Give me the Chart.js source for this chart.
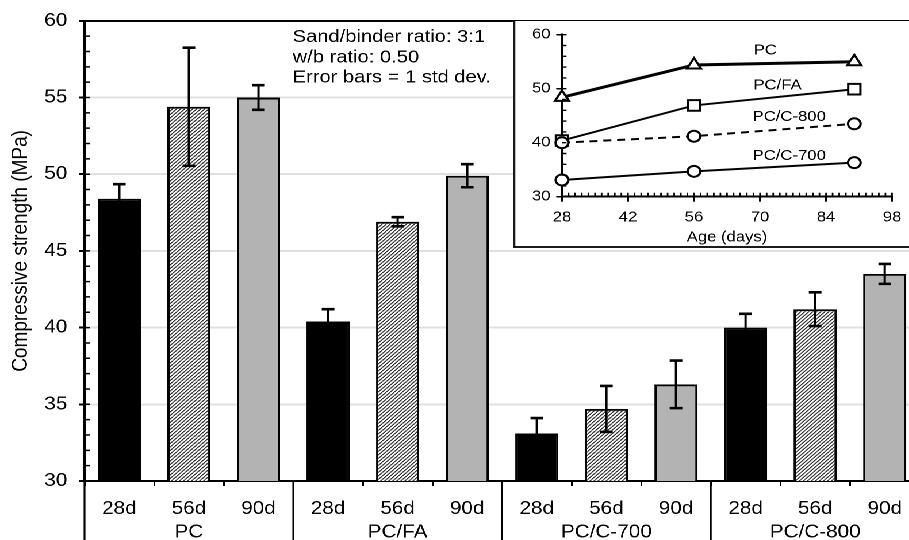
<!DOCTYPE html>
<html>
<head>
<meta charset="utf-8">
<script src="https://cdn.jsdelivr.net/npm/chart.js@4.4.0/dist/chart.umd.min.js"></script>
<style>
  html, body { margin: 0; padding: 0; background: #fff; overflow: hidden; width: 909px; height: 540px; }
  /* the original figure is stretched sideways, so draw narrow and widen */
  #wrap { position: absolute; left: 0; top: 0; width: 806px; height: 540px; transform: scaleX(1.15); transform-origin: 0 0; }
  #main { position: absolute; left: 0; top: 0; }
  #insetBox { position: absolute; left: 446px; top: 21px; width: 358px; height: 225px; background: #fff;
              border-left: 2px solid #1a1a1a; border-bottom: 2px solid #1a1a1a; }
</style>
</head>
<body>
<div id="wrap">
  <canvas id="main" width="806" height="540"></canvas>
  <div id="insetBox"><canvas id="inset" width="358" height="225"></canvas></div>
</div>
<script>
/* ── Data ── */
const groups = ['PC', 'PC/FA', 'PC/C-700', 'PC/C-800'];
const ages = ['28d', '56d', '90d'];
const ageDays = [28, 56, 90];

const pcStrength   = [48.4, 54.4, 55.0];
const faStrength   = [40.4, 46.9, 49.9];
const c700Strength = [33.1, 34.7, 36.3];
const c800Strength = [40.0, 41.2, 43.5];

const pcStd   = [0.95, 3.85, 0.8];
const faStd   = [0.8, 0.3, 0.75];
const c700Std = [1.0, 1.5, 1.55];
const c800Std = [0.9, 1.1, 0.65];

const notes = ['Sand/binder ratio: 3:1', 'w/b ratio: 0.50', 'Error bars = 1 std dev.'];

// where the series names sit in the inset, in data units
const insetLabelPos = [
  { text: 'PC',       x: 71.1, y: 57.1 },
  { text: 'PC/FA',    x: 73.7, y: 50.6 },
  { text: 'PC/C-800', x: 76.2, y: 44.75 },
  { text: 'PC/C-700', x: 76.2, y: 37.5 },
];

const FONT = '"Liberation Sans", Arial, sans-serif';

const labels = groups.flatMap(() => ages);
const values = [...pcStrength, ...faStrength, ...c700Strength, ...c800Strength];
const stds = [...pcStd, ...faStd, ...c700Std, ...c800Std];

function hatchPattern() {
  const t = document.createElement('canvas');
  t.width = 7; t.height = 7;
  const g = t.getContext('2d');
  g.fillStyle = '#fff';
  g.fillRect(0, 0, 7, 7);
  g.strokeStyle = '#2b2b2b';
  g.lineWidth = 2;
  g.beginPath();
  [-7, 0, 7].forEach(k => { g.moveTo(k, 7); g.lineTo(k + 7, 0); });
  g.stroke();
  const p = g.createPattern(t, 'repeat');
  p.setTransform(new DOMMatrix([0.5, 0, 0, 0.5, 0, 0]));
  return p;
}
const hatch = hatchPattern();
const fills = labels.map((_, i) => ['#000', hatch, '#b3b3b3'][i % 3]);

/* ── Main chart plugins ── */
const errorBars = {
  id: 'errorBars',
  afterDatasetsDraw(chart) {
    const { ctx, scales: { y } } = chart;
    ctx.save();
    ctx.strokeStyle = '#000';
    chart.getDatasetMeta(0).data.forEach((bar, i) => {
      const top = y.getPixelForValue(values[i] + stds[i]);
      const bot = y.getPixelForValue(values[i] - stds[i]);
      ctx.lineWidth = 2;
      ctx.beginPath();
      ctx.moveTo(bar.x, top); ctx.lineTo(bar.x, bot);
      ctx.stroke();
      ctx.lineWidth = 2.6;
      ctx.beginPath();
      ctx.moveTo(bar.x - 5.5, top); ctx.lineTo(bar.x + 5.5, top);
      ctx.moveTo(bar.x - 5.5, bot); ctx.lineTo(bar.x + 5.5, bot);
      ctx.stroke();
    });
    ctx.restore();
  }
};

const mainExtras = {
  id: 'mainExtras',
  afterDraw(chart) {
    const { ctx, chartArea: a, scales: { x, y } } = chart;
    ctx.save();
    ctx.strokeStyle = '#000';
    // minor ticks inside the value axis
    ctx.lineWidth = 1.5;
    ctx.beginPath();
    for (let v = y.min; v <= y.max; v += 1) {
      const py = y.getPixelForValue(v);
      ctx.moveTo(a.left, py); ctx.lineTo(a.left + 4.5, py);
    }
    ctx.stroke();
    // axis line and group dividers through the label rows
    ctx.lineWidth = 1.6;
    ctx.beginPath();
    ctx.moveTo(a.left, a.bottom); ctx.lineTo(a.left, chart.height);
    for (let g = 1; g < groups.length; g++) {
      const px = (x.getPixelForValue(g * 3 - 1) + x.getPixelForValue(g * 3)) / 2;
      ctx.moveTo(px, a.bottom); ctx.lineTo(px, chart.height);
    }
    ctx.stroke();
    ctx.fillStyle = '#000';
    ctx.font = '18px ' + FONT;
    ctx.textAlign = 'center';
    ctx.textBaseline = 'alphabetic';
    groups.forEach((g, i) => ctx.fillText(g, x.getPixelForValue(i * 3 + 1), 537.5));
    ctx.font = '17.5px ' + FONT;
    ctx.textAlign = 'left';
    notes.forEach((t, i) => ctx.fillText(t, a.left + 181, 42 + i * 20.3));
    ctx.restore();
  }
};

new Chart(document.getElementById('main'), {
  type: 'bar',
  data: {
    labels,
    datasets: [{
      data: values,
      backgroundColor: fills,
      borderColor: '#000',
      borderWidth: 2,
      barPercentage: 0.62,
      categoryPercentage: 1,
    }]
  },
  options: {
    responsive: false,
    animation: false,
    devicePixelRatio: 2,
    events: [],
    layout: { padding: { top: 20, right: 6.4, left: 0, bottom: 0 } },
    plugins: { legend: { display: false }, tooltip: { enabled: false } },
    scales: {
      x: {
        offset: true,
        afterFit: s => { s.height = 59; },
        grid: { offset: true, drawOnChartArea: false, color: '#000', lineWidth: 1.5, tickLength: 5 },
        border: { display: true, color: '#000', width: 2 },
        ticks: { autoSkip: false, maxRotation: 0, padding: 12, color: '#000', font: { family: FONT, size: 18 } },
      },
      y: {
        min: 30, max: 60,
        afterFit: s => { s.width = 73.5; },
        grid: {
          color: c => c.tick.value === 60 ? '#000' : '#e0e0e0',
          lineWidth: 2,
          tickColor: '#000', tickWidth: 2, tickLength: 5,
        },
        border: { display: true, color: '#000', width: 2 },
        ticks: { stepSize: 5, padding: 10, color: '#000', font: { family: FONT, size: 18 } },
        title: { display: true, text: 'Compressive strength (MPa)', color: '#000',
                 font: { family: FONT, size: 19 }, padding: { top: 7, bottom: 0 } },
      }
    }
  },
  plugins: [errorBars, mainExtras]
});

/* ── Inset: strength vs age ── */
const insetExtras = {
  id: 'insetExtras',
  afterDraw(chart) {
    const { ctx, chartArea: a, scales: { x, y } } = chart;
    ctx.save();
    ctx.strokeStyle = '#000';
    ctx.lineWidth = 1.4;
    ctx.beginPath();
    for (let v = y.min; v <= y.max; v += 2) {
      const py = y.getPixelForValue(v);
      ctx.moveTo(a.left, py); ctx.lineTo(a.left + 4, py);
    }
    for (let d = x.min; d <= x.max + 0.01; d += 1.4) {
      const px = x.getPixelForValue(d);
      ctx.moveTo(px, a.bottom); ctx.lineTo(px, a.bottom - 4);
    }
    ctx.stroke();
    ctx.fillStyle = '#000';
    ctx.font = '14.5px ' + FONT;
    ctx.textAlign = 'center';
    ctx.textBaseline = 'middle';
    insetLabelPos.forEach(l => ctx.fillText(l.text, x.getPixelForValue(l.x), y.getPixelForValue(l.y)));
    ctx.restore();
  }
};

const pts = arr => ageDays.map((d, i) => ({ x: d, y: arr[i] }));
const lineStyle = {
  borderColor: '#000', pointBackgroundColor: '#fff', pointBorderColor: '#000',
  pointBorderWidth: 2, borderWidth: 2, clip: false, tension: 0,
};

new Chart(document.getElementById('inset'), {
  type: 'line',
  data: {
    datasets: [
      { ...lineStyle, label: 'PC', data: pts(pcStrength), borderWidth: 3, pointStyle: 'triangle', pointRadius: 7, order: 0 },
      { ...lineStyle, label: 'PC/FA', data: pts(faStrength), pointStyle: 'rect', pointRadius: 7.5, order: 2 },
      { ...lineStyle, label: 'PC/C-800', data: pts(c800Strength), borderDash: [7, 5], pointStyle: 'circle', pointRadius: 5.5, order: 1 },
      { ...lineStyle, label: 'PC/C-700', data: pts(c700Strength), pointStyle: 'circle', pointRadius: 5.5, order: 3 },
    ]
  },
  options: {
    responsive: false,
    animation: false,
    devicePixelRatio: 2,
    events: [],
    layout: { padding: { top: 12.3, right: 30.3, left: 0, bottom: 0 } },
    plugins: { legend: { display: false }, tooltip: { enabled: false } },
    scales: {
      x: {
        type: 'linear', min: 28, max: 98,
        afterFit: s => { s.height = 49.3; },
        grid: { drawOnChartArea: false, color: '#000', lineWidth: 1.5, tickLength: 5 },
        border: { display: true, color: '#000', width: 2 },
        ticks: { stepSize: 14, padding: 7, color: '#000', font: { family: FONT, size: 14.5 } },
        title: { display: true, text: 'Age (days)', color: '#000', font: { family: FONT, size: 14.5 }, padding: 0 },
      },
      y: {
        min: 30, max: 60,
        afterFit: s => { s.width = 40.7; },
        grid: { drawOnChartArea: false, color: '#000', lineWidth: 1.5, tickLength: 5 },
        border: { display: true, color: '#000', width: 2 },
        ticks: { stepSize: 10, padding: 5, color: '#000', font: { family: FONT, size: 14.5 } },
      }
    }
  },
  plugins: [insetExtras]
});
</script>
</body>
</html>
